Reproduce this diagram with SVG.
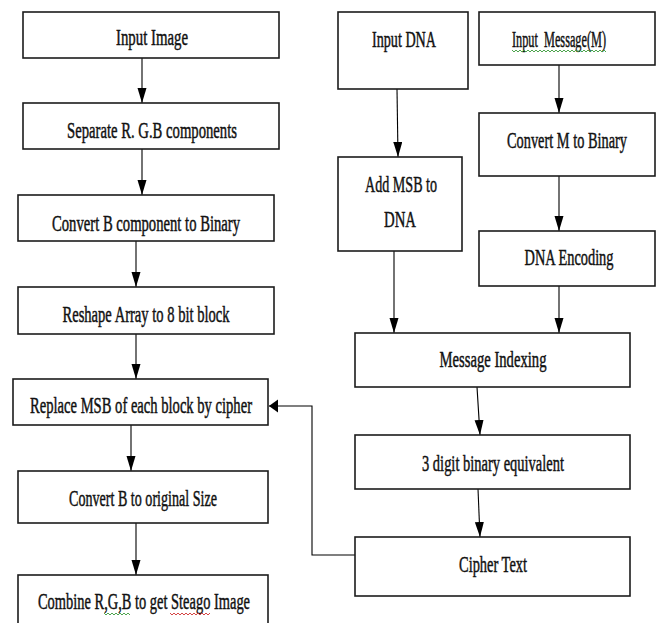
<svg xmlns="http://www.w3.org/2000/svg" width="661" height="623" viewBox="0 0 661 623">
<style>
.box{fill:#fff;stroke:#1c1c1c;stroke-width:1.6}
.lbl{font-family:"Liberation Serif","Times New Roman",serif;font-size:24px;fill:#111;text-anchor:middle;stroke:#111;stroke-width:0.5}
.ln{fill:none;stroke:#000;stroke-width:1.1}
.sq{fill:none;stroke-width:0.9}
</style>
<defs>
<marker id="aV" markerUnits="userSpaceOnUse" markerWidth="16" markerHeight="10" refX="15" refY="4.5" orient="auto"><path d="M0,0 L15,4.5 L0,9 Z" fill="#000"/></marker>
<marker id="aH" markerUnits="userSpaceOnUse" markerWidth="10" markerHeight="14" refX="9" refY="6.5" orient="auto"><path d="M0,0 L9,6.5 L0,13 Z" fill="#000"/></marker>
</defs>
<rect width="661" height="623" fill="#fff"/>
<g id="connectors">
<line class="ln" x1="142" y1="58" x2="142" y2="103" marker-end="url(#aV)"/>
<line class="ln" x1="142" y1="149" x2="142" y2="195" marker-end="url(#aV)"/>
<line class="ln" x1="136" y1="241" x2="136" y2="287" marker-end="url(#aV)"/>
<line class="ln" x1="136" y1="334" x2="136" y2="379" marker-end="url(#aV)"/>
<line class="ln" x1="131" y1="425" x2="131" y2="471" marker-end="url(#aV)"/>
<line class="ln" x1="136" y1="523" x2="136" y2="575" marker-end="url(#aV)"/>
<line class="ln" x1="397" y1="89" x2="398" y2="157" marker-end="url(#aV)"/>
<line class="ln" x1="394" y1="251" x2="394" y2="333" marker-end="url(#aV)"/>
<line class="ln" x1="559" y1="65" x2="559" y2="113" marker-end="url(#aV)"/>
<line class="ln" x1="559" y1="176" x2="559" y2="231" marker-end="url(#aV)"/>
<line class="ln" x1="559" y1="286" x2="559" y2="333" marker-end="url(#aV)"/>
<line class="ln" x1="477" y1="387" x2="480" y2="435" marker-end="url(#aV)"/>
<line class="ln" x1="478" y1="489" x2="480" y2="537" marker-end="url(#aV)"/>
<polyline class="ln" points="355,555 312,555 312,406 269,406" marker-end="url(#aH)"/>
</g>
<g id="n1"><rect class="box" x="23" y="12" width="256" height="46"/><text class="lbl" transform="translate(152,45) scale(0.65,1)" textLength="110.8" lengthAdjust="spacingAndGlyphs">Input Image</text></g>
<g id="n2"><rect class="box" x="23" y="103" width="256" height="46"/><text class="lbl" transform="translate(152,138) scale(0.65,1)" textLength="261.5" lengthAdjust="spacingAndGlyphs">Separate R. G.B components</text></g>
<g id="n3"><rect class="box" x="18" y="195" width="256" height="46"/><text class="lbl" transform="translate(146,231) scale(0.65,1)" textLength="289.2" lengthAdjust="spacingAndGlyphs">Convert B component to Binary</text></g>
<g id="n4"><rect class="box" x="18" y="287" width="256" height="47"/><text class="lbl" transform="translate(146,322) scale(0.65,1)" textLength="256.9" lengthAdjust="spacingAndGlyphs">Reshape Array to 8 bit block</text></g>
<g id="n5"><rect class="box" x="13" y="379" width="255" height="46"/><text class="lbl" transform="translate(141,413) scale(0.65,1)" textLength="341.5" lengthAdjust="spacingAndGlyphs">Replace MSB of each block by cipher</text></g>
<g id="n6"><rect class="box" x="18" y="471" width="250" height="52"/><text class="lbl" transform="translate(143,506) scale(0.65,1)" textLength="227.7" lengthAdjust="spacingAndGlyphs">Convert B to original Size</text></g>
<g id="n7"><rect class="box" x="18" y="575" width="250" height="52"/><text class="lbl" transform="translate(144,609) scale(0.65,1)" textLength="326.2" lengthAdjust="spacingAndGlyphs">Combine R,G,B to get Steago Image</text>
<path class="sq" stroke="#3a9a3a" d="M104,613 l2,2 l2,-2 l2,2 l2,-2 l2,2 l2,-2 l2,2 l2,-2 l2,2 l2,-2 l2,2 l2,-2 l2,2"/>
<path class="sq" stroke="#d03030" d="M170,613 l2,2 l2,-2 l2,2 l2,-2 l2,2 l2,-2 l2,2 l2,-2 l2,2 l2,-2 l2,2 l2,-2 l2,2 l2,-2 l2,2 l2,-2 l2,2 l2,-2 l2,2 l2,-2"/></g>
<g id="n8"><rect class="box" x="338" y="12" width="130" height="77"/><text class="lbl" transform="translate(404,47) scale(0.65,1)" textLength="98.5" lengthAdjust="spacingAndGlyphs">Input DNA</text></g>
<g id="n9"><rect class="box" x="338" y="157" width="124" height="94"/><text class="lbl" transform="translate(401,192) scale(0.65,1)" textLength="110.8" lengthAdjust="spacingAndGlyphs">Add MSB to</text><text class="lbl" transform="translate(400,227) scale(0.65,1)" textLength="49.2" lengthAdjust="spacingAndGlyphs">DNA</text></g>
<g id="n10"><rect class="box" x="479" y="12" width="176" height="53"/><text class="lbl" transform="translate(559,47) scale(0.65,1)" textLength="144.6" lengthAdjust="spacingAndGlyphs" xml:space="preserve">Input  Message(M)</text>
<path class="sq" stroke="#3a9a3a" d="M512,50 l2,2 l2,-2 l2,2 l2,-2 l2,2 l2,-2 l2,2 l2,-2 l2,2 l2,-2 l2,2 l2,-2 l2,2 l2,-2 l2,2 l2,-2 l2,2 l2,-2 l2,2 l2,-2 l2,2 l2,-2 l2,2 l2,-2 l2,2 l2,-2 l2,2 l2,-2 l2,2 l2,-2 l2,2 l2,-2 l2,2 l2,-2 l2,2 l2,-2 l2,2 l2,-2 l2,2 l2,-2 l2,2 l2,-2 l2,2 l2,-2 l2,2 l2,-2 l2,2"/></g>
<g id="n11"><rect class="box" x="479" y="113" width="176" height="63"/><text class="lbl" transform="translate(567,148) scale(0.65,1)" textLength="184.6" lengthAdjust="spacingAndGlyphs">Convert M to Binary</text></g>
<g id="n12"><rect class="box" x="479" y="231" width="176" height="55"/><text class="lbl" transform="translate(569,265) scale(0.65,1)" textLength="136.9" lengthAdjust="spacingAndGlyphs">DNA Encoding</text></g>
<g id="n13"><rect class="box" x="355" y="333" width="275" height="54"/><text class="lbl" transform="translate(493,367) scale(0.65,1)" textLength="164.6" lengthAdjust="spacingAndGlyphs">Message Indexing</text></g>
<g id="n14"><rect class="box" x="355" y="435" width="275" height="54"/><text class="lbl" transform="translate(493,471) scale(0.65,1)" textLength="218.5" lengthAdjust="spacingAndGlyphs">3 digit binary equivalent</text></g>
<g id="n15"><rect class="box" x="355" y="537" width="275" height="59"/><text class="lbl" transform="translate(493,572) scale(0.65,1)" textLength="104.6" lengthAdjust="spacingAndGlyphs">Cipher Text</text></g>
</svg>
